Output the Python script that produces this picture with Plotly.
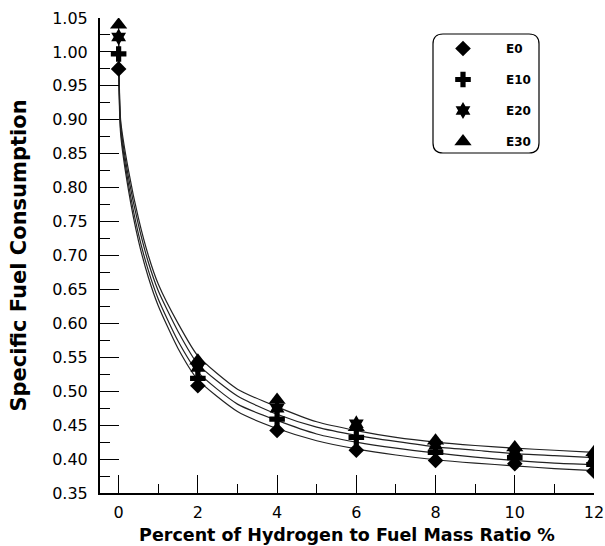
import plotly.graph_objects as go

# Measured data points
x_pts = [0, 2, 4, 6, 8, 10, 12]
e0 = [0.975, 0.508, 0.442, 0.413, 0.398, 0.393, 0.382]
e10 = [0.997, 0.519, 0.459, 0.432, 0.410, 0.402, 0.392]
e20 = [1.022, 0.535, 0.475, 0.452, 0.420, 0.410, 0.400]
e30 = [1.040, 0.545, 0.487, 0.447, 0.427, 0.417, 0.410]

# Fitted curves
x_fit = [0, 0.05, 0.25, 0.5, 0.75, 1, 1.5, 2, 3, 4, 5, 6, 7, 8, 9, 10, 11, 12]
fit_e0 = [0.975, 0.880, 0.796, 0.722, 0.668, 0.626, 0.563, 0.517, 0.470, 0.445,
          0.427, 0.415, 0.406, 0.399, 0.394, 0.390, 0.386, 0.383]
fit_e10 = [0.997, 0.887, 0.805, 0.732, 0.678, 0.636, 0.574, 0.528, 0.481, 0.457,
           0.437, 0.425, 0.416, 0.409, 0.403, 0.398, 0.394, 0.392]
fit_e20 = [1.022, 0.894, 0.815, 0.745, 0.690, 0.648, 0.588, 0.540, 0.493, 0.466,
           0.447, 0.435, 0.426, 0.418, 0.413, 0.408, 0.405, 0.402]
fit_e30 = [1.040, 0.900, 0.825, 0.755, 0.700, 0.658, 0.600, 0.552, 0.503, 0.477,
           0.455, 0.442, 0.432, 0.425, 0.420, 0.416, 0.413, 0.410]

names = ["E0", "E10", "E20", "E30"]
symbols = ["diamond", "cross", "hexagram", "triangle-up"]
sizes = [12, 13, 13, 15]
series = [e0, e10, e20, e30]
fits = [fit_e0, fit_e10, fit_e20, fit_e30]

fig = go.Figure()
for f in fits:
    fig.add_trace(go.Scatter(x=x_fit, y=f, mode="lines", showlegend=False,
                             line=dict(color="#222222", width=1.2, shape="spline", smoothing=0.6),
                             hoverinfo="skip"))
for n, s, sz, ys in zip(names, symbols, sizes, series):
    fig.add_trace(go.Scatter(x=x_pts, y=ys, mode="markers", name=n, legendgroup=n,
                             marker=dict(symbol=s, size=sz, color="black",
                                         line=dict(width=0))))

# screen pixel -> paper coordinates
def px2paper(px, py):
    return (px - 100) / 494, (493 - py) / 475

x0, yt = px2paper(433, 34)
x1, yb = px2paper(539, 153)
rx = 10 / 494
ry = 10 / 475
path = (f"M {x0+rx},{yt} L {x1-rx},{yt} Q {x1},{yt} {x1},{yt-ry} "
        f"L {x1},{yb+ry} Q {x1},{yb} {x1-rx},{yb} L {x0+rx},{yb} "
        f"Q {x0},{yb} {x0},{yb+ry} L {x0},{yt-ry} Q {x0},{yt} {x0+rx},{yt} Z")
fig.add_shape(type="path", path=path, xref="paper", yref="paper",
              line=dict(color="black", width=1.2), fillcolor="rgba(0,0,0,0)")

fig.update_layout(
    width=605, height=546,
    margin=dict(l=100, r=11, t=18, b=53),
    plot_bgcolor="white", paper_bgcolor="white",
    font=dict(family="DejaVu Sans", color="black"),
    legend=dict(x=px2paper(420, 0)[0], y=px2paper(0, 34)[1], xanchor="left", yanchor="top",
                bgcolor="rgba(0,0,0,0)", borderwidth=0, itemwidth=76,
                tracegroupgap=12,
                font=dict(family="DejaVu Sans", size=12, color="black", weight="bold")),
    xaxis=dict(range=[-0.47, 12], tickmode="array", tickvals=[0, 2, 4, 6, 8, 10, 12],
               automargin=False, ticklabeloverflow="allow",
               ticks="inside", ticklen=18, tickwidth=1, tickcolor="black",
               minor=dict(ticks="inside", ticklen=9, tickwidth=1, tickcolor="black", dtick=1),
               showline=True, linecolor="black", linewidth=2, showgrid=False, zeroline=False,
               tickfont=dict(size=16, family="DejaVu Sans"),
               ticklabelstandoff=4,
               title=dict(text="Percent of Hydrogen to Fuel Mass Ratio %", standoff=8,
                          font=dict(family="DejaVu Sans", size=17.5, weight="bold"))),
    yaxis=dict(range=[0.35, 1.05], tickmode="array",
               tickvals=[0.35, 0.40, 0.45, 0.50, 0.55, 0.60, 0.65, 0.70, 0.75, 0.80, 0.85, 0.90, 0.95, 1.00, 1.05],
               ticktext=["0.35", "0.40", "0.45", "0.50", "0.55", "0.60", "0.65", "0.70", "0.75",
                         "0.80", "0.85", "0.90", "0.95", "1.00", "1.05"],
               automargin=False,
               ticks="inside", ticklen=19, tickwidth=1, tickcolor="black",
               minor=dict(ticks="inside", ticklen=10, tickwidth=1, tickcolor="black", dtick=0.025),
               showline=True, linecolor="black", linewidth=2, showgrid=False, zeroline=False,
               tickfont=dict(size=16, family="DejaVu Sans"),
               ticklabelstandoff=7,
               title=dict(text="Specific Fuel Consumption", standoff=20,
                          font=dict(family="DejaVu Sans", size=21, weight="bold"))),
)

fig.write_html("out.html", config={"displayModeBar": False},
               post_script="document.body.style.margin='0';document.body.style.overflow='hidden';")
